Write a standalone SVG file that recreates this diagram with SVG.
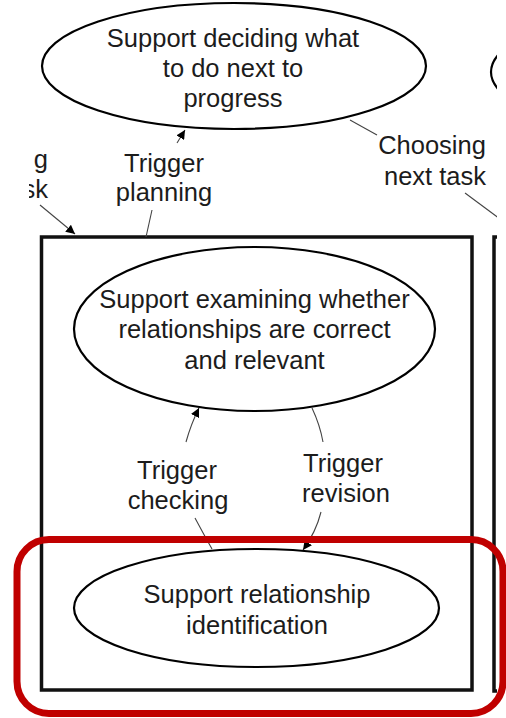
<svg xmlns="http://www.w3.org/2000/svg" width="506" height="718" viewBox="0 0 506 718">
  <style>
    .node { fill: #ffffff; stroke: #000000; stroke-width: 2.2; }
    .frame { fill: none; stroke: #111111; stroke-width: 3.5; }
    .lbl { font-family: "Liberation Sans", Arial, sans-serif; font-size: 25.5px; fill: #1c1c1c; text-anchor: middle; }
    .edge { fill: none; stroke: #444444; stroke-width: 1.1; }
    .focus { fill: none; stroke: #C00000; stroke-width: 7; }
  </style>
  <defs>
    <marker id="arrow" viewBox="0 0 10 10" refX="10" refY="5" markerWidth="9" markerHeight="9" markerUnits="userSpaceOnUse" orient="auto">
      <path d="M0,0 L10,5 L0,10 Z" fill="#000000"/>
    </marker>
    <clipPath id="view">
      <rect x="0" y="0" width="497" height="718"/>
    </clipPath>
    <clipPath id="leftcut">
      <rect x="29" y="0" width="80" height="718"/>
    </clipPath>
  </defs>

  <g clip-path="url(#view)">
    <!-- container frames -->
    <g id="frame-relationships">
      <rect class="frame" x="41.5" y="237" width="430.5" height="453"/>
    </g>
    <g id="frame-next">
      <rect class="frame" x="494" y="237" width="200" height="454"/>
    </g>

    <!-- neighbouring node, mostly out of view -->
    <g id="node-right">
      <ellipse class="node" cx="682" cy="72" rx="191" ry="63"/>
    </g>

    <!-- connectors -->
    <g id="connectors">
      <path class="edge" d="M40,205 L75,234" marker-end="url(#arrow)"/>
      <path class="edge" d="M146,237 L152,210"/>
      <path class="edge" d="M177,143 L185,130" marker-end="url(#arrow)"/>
      <path class="edge" d="M350,120 L377,135"/>
      <path class="edge" d="M465,193 L500,219"/>
      <path class="edge" d="M212,549 Q203,533 195,518"/>
      <path class="edge" d="M186,442 Q191,424 199,408" marker-end="url(#arrow)"/>
      <path class="edge" d="M312,408 Q320,425 323,442"/>
      <path class="edge" d="M321,512 Q316,532 303,550" marker-end="url(#arrow)"/>
    </g>

    <!-- nodes -->
    <g id="node-progress">
      <ellipse class="node" cx="234" cy="66" rx="192" ry="63"/>
      <text class="lbl" x="233" y="47">Support deciding what</text>
      <text class="lbl" x="233" y="77">to do next to</text>
      <text class="lbl" x="233" y="107">progress</text>
    </g>
    <g id="node-examine">
      <ellipse class="node" cx="254.5" cy="329" rx="180.5" ry="82"/>
      <text class="lbl" x="254.5" y="308">Support examining whether</text>
      <text class="lbl" x="254.5" y="338">relationships are correct</text>
      <text class="lbl" x="254.5" y="369">and relevant</text>
    </g>
    <g id="node-identify">
      <ellipse class="node" cx="256.5" cy="608" rx="182.5" ry="59"/>
      <text class="lbl" x="257" y="603">Support relationship</text>
      <text class="lbl" x="257" y="634">identification</text>
    </g>

    <!-- connector labels -->
    <g id="labels">
      <g clip-path="url(#leftcut)">
        <text class="lbl" style="text-anchor:end" x="48" y="168">g</text>
        <text class="lbl" style="text-anchor:end" x="48" y="198">sk</text>
      </g>
      <text class="lbl" x="164" y="172">Trigger</text>
      <text class="lbl" x="164" y="201">planning</text>
      <text class="lbl" x="432" y="154">Choosing</text>
      <text class="lbl" x="435" y="185">next task</text>
      <text class="lbl" x="177" y="479">Trigger</text>
      <text class="lbl" x="178" y="509">checking</text>
      <text class="lbl" x="343" y="472">Trigger</text>
      <text class="lbl" x="346" y="502">revision</text>
    </g>
  </g>

  <!-- highlight around the identification step -->
  <g id="highlight">
    <rect class="focus" x="17" y="539.5" width="486" height="174" rx="32" ry="32"/>
  </g>
</svg>
